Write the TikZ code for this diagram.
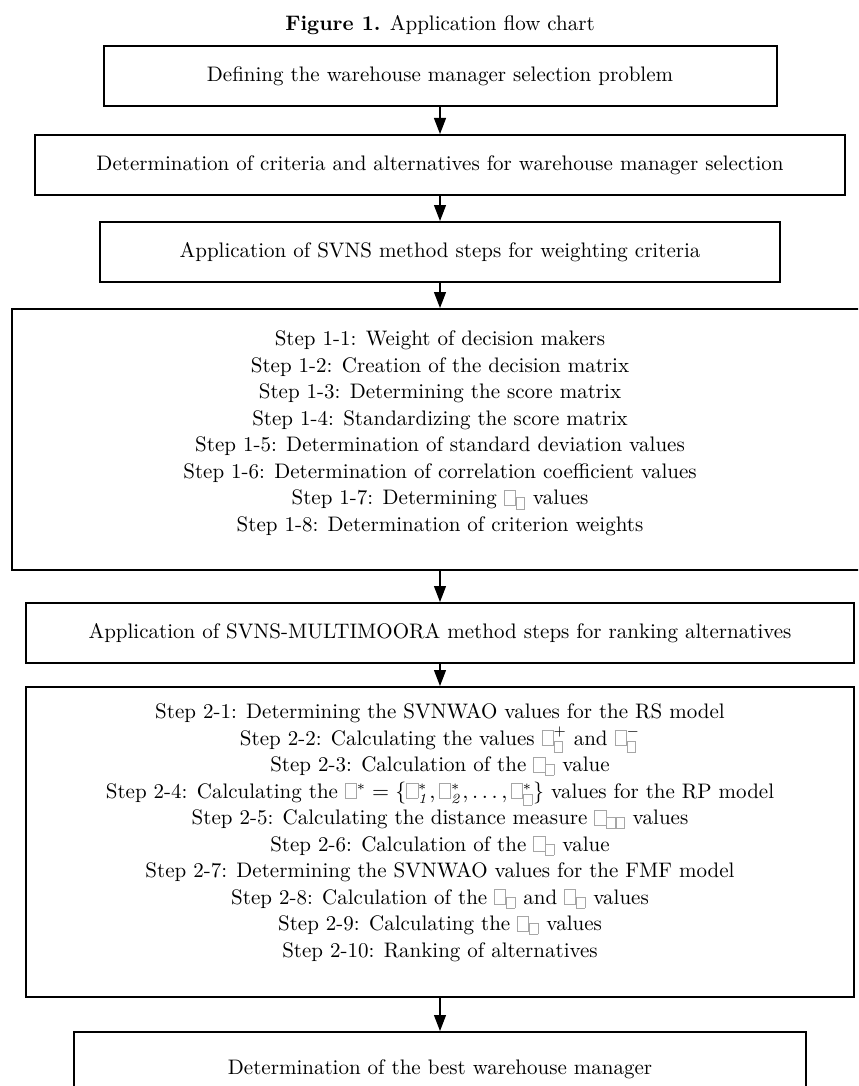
\documentclass[tikz,border=0pt]{standalone}
\usepackage{amsmath,amssymb}
\usetikzlibrary{arrows.meta}

% empty glyph boxes, as the figure prints its symbols
\newcommand{\gl}{{\color{gray!70}\setlength{\fboxsep}{0pt}\setlength{\fboxrule}{0.35pt}\fbox{\rule{0pt}{0.68em}\hspace{0.5em}}}}
\newcommand{\gs}{{\color{gray!70}\setlength{\fboxsep}{0pt}\setlength{\fboxrule}{0.3pt}\fbox{\rule{0pt}{0.5em}\hspace{0.38em}}}}

\tikzset{
  stepbox/.style={draw, line width=1pt, minimum height=30pt, inner sep=0pt},
  steptext/.style={align=center, inner sep=0pt},
  flow/.style={-{Triangle[width=6pt,length=8pt]}, line width=0.6pt}
}

\begin{document}
\begin{tikzpicture}[font=\fontsize{10.5}{13.25}\selectfont]
  \useasboundingbox (0pt,0pt) rectangle (429pt,-543pt);
  \clip (0pt,0pt) rectangle (429pt,-543pt);

  % title
  \draw (220pt,-12.5pt) node (title) {\textbf{Figure 1.} Application flow chart};

  % boxes
  \draw (220pt,-38pt)    node[stepbox, minimum width=336.5pt] (b1) {Defining the warehouse manager selection problem};
  \draw (220pt,-82.5pt)  node[stepbox, minimum width=405pt] (b2) {Determination of criteria and alternatives for warehouse manager selection};
  \draw (220pt,-126pt)   node[stepbox, minimum width=340pt] (b3) {Application of SVNS method steps for weighting criteria};
  \draw (220pt,-219.75pt) node[stepbox, minimum width=428pt, minimum height=130.5pt] (b4) {};
  \draw (220pt,-316.5pt) node[stepbox, minimum width=414pt] (b5) {Application of SVNS-MULTIMOORA method steps for ranking alternatives};
  \draw (220pt,-421pt)   node[stepbox, minimum width=414pt, minimum height=155pt] (b6) {};
  \draw (220pt,-534.5pt) node[stepbox, minimum width=366pt, minimum height=37pt] (b7) {Determination of the best warehouse manager};

  % step lists
  \draw (220pt,-216.75pt) node[steptext] (t4) {%
    Step 1-1: Weight of decision makers\\
    Step 1-2: Creation of the decision matrix\\
    Step 1-3: Determining the score matrix\\
    Step 1-4: Standardizing the score matrix\\
    Step 1-5: Determination of standard deviation values\\
    Step 1-6: Determination of correlation coefficient values\\
    Step 1-7: Determining $\gl_{\gs}$ values\\
    Step 1-8: Determination of criterion weights};
  \draw (220pt,-416.25pt) node[steptext] (t6) {%
    Step 2-1: Determining the SVNWAO values for the RS model\\
    Step 2-2: Calculating the values $\gl^{+}_{\gs}$ and $\gl^{-}_{\gs}$\\
    Step 2-3: Calculation of the $\gl_{\gs}$ value\\
    Step 2-4: Calculating the $\gl^{*}=\{\gl^{*}_{\mathit{1}},\gl^{*}_{\mathit{2}},\dots,\gl^{*}_{\gs}\}$ values for the RP model\\
    Step 2-5: Calculating the distance measure $\gl_{\gs\gs}$ values\\
    Step 2-6: Calculation of the $\gl_{\gs}$ value\\
    Step 2-7: Determining the SVNWAO values for the FMF model\\
    Step 2-8: Calculation of the $\gl_{\gs}$ and $\gl_{\gs}$ values\\
    Step 2-9: Calculating the $\gl_{\gs}$ values\\
    Step 2-10: Ranking of alternatives};

  \draw[flow] (b1) edge (b2);
  \draw[flow] (b2) edge (b3);
  \draw[flow] (b3) edge (b4);
  \draw[flow] (b4) edge (b5);
  \draw[flow] (b5) edge (b6);
  \draw[flow] (b6) edge (b7);

\end{tikzpicture}
\end{document}
